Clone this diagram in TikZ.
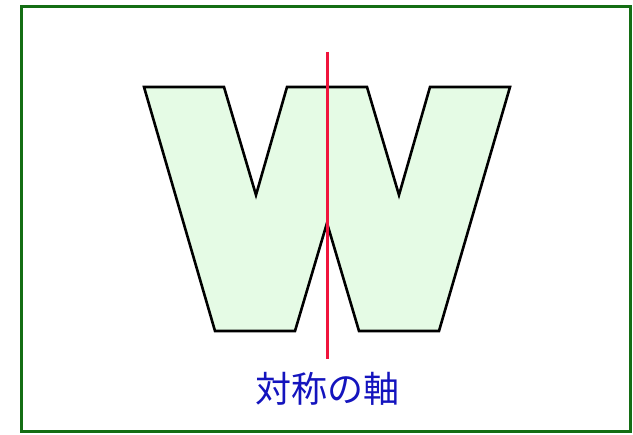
\documentclass[tikz,border=0pt]{standalone}
\usepackage{fontspec}
\newfontfamily\cjk{Noto Sans CJK JP}
\definecolor{framegreen}{RGB}{20,110,20}
\definecolor{wfill}{RGB}{229,251,229}
\definecolor{axisred}{RGB}{240,20,60}
\definecolor{labelblue}{RGB}{20,20,190}
\tikzset{
  frame/.style={draw=framegreen,line width=3pt},
  wshape/.style={draw=black,fill=wfill,line width=2.6pt,line join=miter},
  axisline/.style={draw=axisred,line width=3pt},
  axislabel/.style={text=labelblue,font=\cjk\fontsize{36}{38}\selectfont,inner sep=0pt}
}
\begin{document}
\begin{tikzpicture}[x=1pt,y=-1pt]
\useasboundingbox (0,0) rectangle (633,435);
\fill[white] (0,0) rectangle (633,435);
\draw[frame] (21.5,7) rectangle (630.5,431.5);
\draw[wshape] (144,87) -- (224,87) -- (256,195) -- (287,87) -- (367,87)
  -- (399,195) -- (430,87) -- (510,87) -- (439,331) -- (359,331)
  -- (327,223) -- (295,331) -- (215,331) -- cycle;
\coordinate (axtop) at (327,52);
\coordinate (axbot) at (327,359);
\draw[axisline] (axtop) -- (axbot);
\node[axislabel] (label) at (327,389) {対称の軸};
\end{tikzpicture}
\end{document}
